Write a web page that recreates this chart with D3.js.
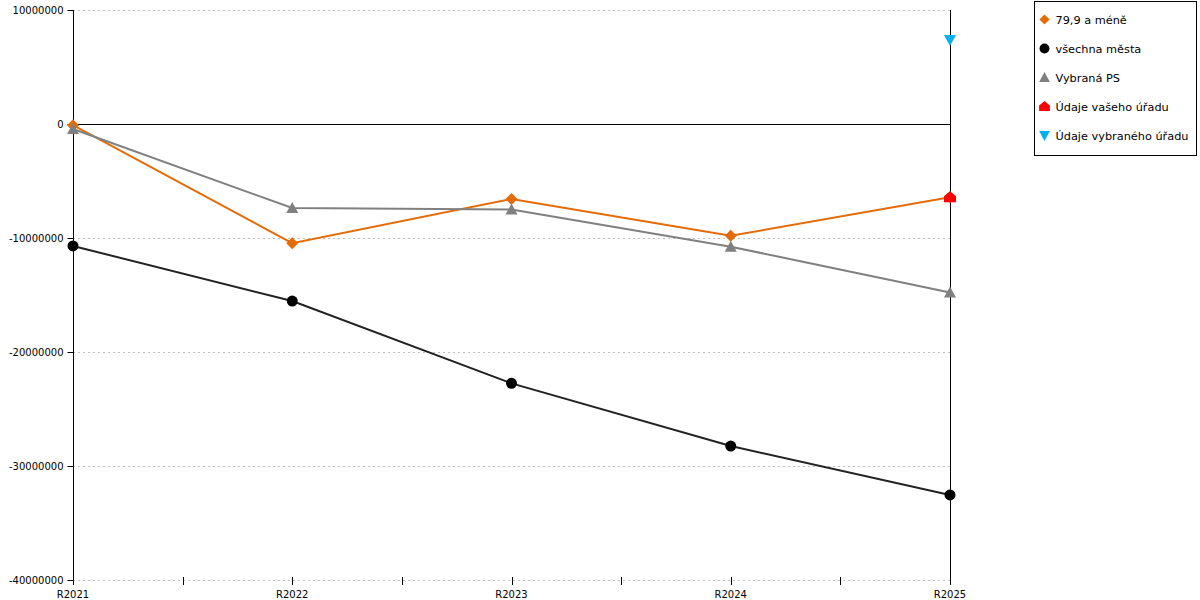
<!DOCTYPE html>
<html>
<head>
<meta charset="utf-8">
<script src="https://cdn.jsdelivr.net/npm/d3@7"></script>
<style>
    body { margin: 0; background: #fff; }
    text { font-family: "DejaVu Sans", Verdana, sans-serif; }
</style>
</head>
<body>
<div id="chart"></div>
<script>
// data
const categories = ['R2021', 'R2022', 'R2023', 'R2024', 'R2025']
const y_ticks = [10000000, 0, -10000000, -20000000, -30000000, -40000000]

const mene_79 = [-100000, -10460000, -6580000, -9800000, -6430000]
const vsechna_mesta = [-10700000, -15530000, -22750000, -28250000, -32540000]
const vybrana_ps = [-440000, -7370000, -7500000, -10760000, -14780000]
const vaseho_uradu = [null, null, null, null, -6430000]
const vybraneho_uradu = [null, null, null, null, 7370000]

const series = [
    { name: '79,9 a méně', values: mene_79, color: '#e36c09', marker: 'diamond', line: true },
    { name: 'všechna města', values: vsechna_mesta, color: '#000000', stroke: '#222', marker: 'circle', line: true },
    { name: 'Vybraná PS', values: vybrana_ps, color: '#808080', marker: 'triangle', line: true },
    { name: 'Údaje vašeho úřadu', values: vaseho_uradu, color: '#ff0000', marker: 'house', line: false },
    { name: 'Údaje vybraného úřadu', values: vybraneho_uradu, color: '#00b0f0', marker: 'triangleDown', line: false }
]

const width = 1200, height = 600
const margin = { left: 73, right: 250, top: 10, bottom: 20 }

const svg = d3.select('#chart').append('svg')
    .attr('width', width)
    .attr('height', height)

const x = d3.scalePoint().domain(categories).range([margin.left, width - margin.right])
const y = d3.scaleLinear().domain([-40000000, 10000000]).range([height - margin.bottom, margin.top])
const crisp = v => Math.round(v) + 0.5

// grid
svg.append('g')
    .selectAll('line')
    .data(y_ticks.filter(d => d != 0))
    .enter()
    .append('line')
        .attr('x1', x.range()[0]).attr('x2', x.range()[1])
        .attr('y1', d => crisp(y(d))).attr('y2', d => crisp(y(d)))
        .style('stroke', '#c0c0c0')
        .style('stroke-dasharray', '2,3')

// zero line
svg.append('line')
    .attr('x1', x.range()[0]).attr('x2', x.range()[1])
    .attr('y1', crisp(y(0))).attr('y2', crisp(y(0)))
    .style('stroke', '#000')

// right border line
svg.append('line')
    .attr('x1', crisp(x.range()[1])).attr('x2', crisp(x.range()[1]))
    .attr('y1', y(10000000)).attr('y2', y(-40000000) + 5)
    .style('stroke', '#000')

// y axis
const yAxis = svg.append('g')
    .attr('transform', 'translate(' + (margin.left + 0.5) + ',0)')
    .call(d3.axisLeft(y).tickValues(y_ticks).tickFormat(d => String(d)).tickSize(6).tickPadding(4))
yAxis.select('.domain').attr('d', 'M0,' + y(10000000) + 'V' + (y(-40000000) + 5))
yAxis.selectAll('.tick').attr('transform', d => 'translate(0,' + crisp(y(d)) + ')')
yAxis.selectAll('text').style('font-size', '10px').style('fill', '#000').attr('font-family', null)

// x axis: category ticks plus minor ticks between
const mids = categories.slice(1).map((c, i) => (x(categories[i]) + x(c)) / 2)
const xAxis = svg.append('g')
    .attr('transform', 'translate(0,' + (y(-40000000) - 3) + ')')
xAxis.selectAll('line')
    .data(categories.map(c => x(c)).concat(mids))
    .enter()
    .append('line')
        .attr('x1', d => crisp(d)).attr('x2', d => crisp(d))
        .attr('y1', 0).attr('y2', 8)
        .style('stroke', '#000')
xAxis.selectAll('text')
    .data(categories)
    .enter()
    .append('text')
        .attr('x', d => x(d))
        .attr('y', 21)
        .attr('text-anchor', 'middle')
        .style('font-size', '10px')
        .text(d => d)

// marker paths
const markerPath = (type, s) => {
    if (type == 'diamond') return 'M0,' + (-s) + 'L' + s + ',0L0,' + s + 'L' + (-s) + ',0Z'
    if (type == 'triangle') return 'M0,-6L6,5L-6,5Z'
    if (type == 'triangleDown') return 'M-6,-5L6,-5L0,6Z'
    if (type == 'house') return 'M0,-6L6,-1L6,5L-6,5L-6,-1Z'
    return null
}

const drawMarker = (g, type, color) => {
    if (type == 'circle') {
        g.append('circle').attr('r', 5.5).style('fill', color)
    } else {
        g.append('path').attr('d', markerPath(type, 6)).style('fill', color)
    }
}

// lines
const line = d3.line()
    .defined(d => d != null)
    .x((d, i) => x(categories[i]))
    .y(d => y(d))

series.filter(s => s.line).forEach(s => {
    svg.append('path')
        .datum(s.values)
        .attr('d', line)
        .style('fill', 'none')
        .style('stroke', s.stroke || s.color)
        .style('stroke-width', 2)
})

series.forEach(s => {
    s.values.forEach((v, i) => {
        if (v == null) return
        const g = svg.append('g')
            .attr('transform', 'translate(' + x(categories[i]) + ',' + y(v) + ')')
        drawMarker(g, s.marker, s.color)
    })
})

// legend
const legend = svg.append('g').attr('transform', 'translate(1034.5,1.5)')
legend.append('rect')
    .attr('width', 162).attr('height', 154)
    .style('fill', '#fff')
    .style('stroke', '#000')
series.forEach((s, i) => {
    const item = legend.append('g').attr('transform', 'translate(10,' + (18 + i * 29) + ')')
    const m = item.append('g').attr('transform', s.marker == 'diamond' ? 'scale(0.85)' : 'scale(0.9)')
    drawMarker(m, s.marker, s.color)
    item.append('text')
        .attr('x', 11)
        .attr('y', 4)
        .style('font-size', '11.3px')
        .text(s.name)
})
</script>
</body>
</html>
